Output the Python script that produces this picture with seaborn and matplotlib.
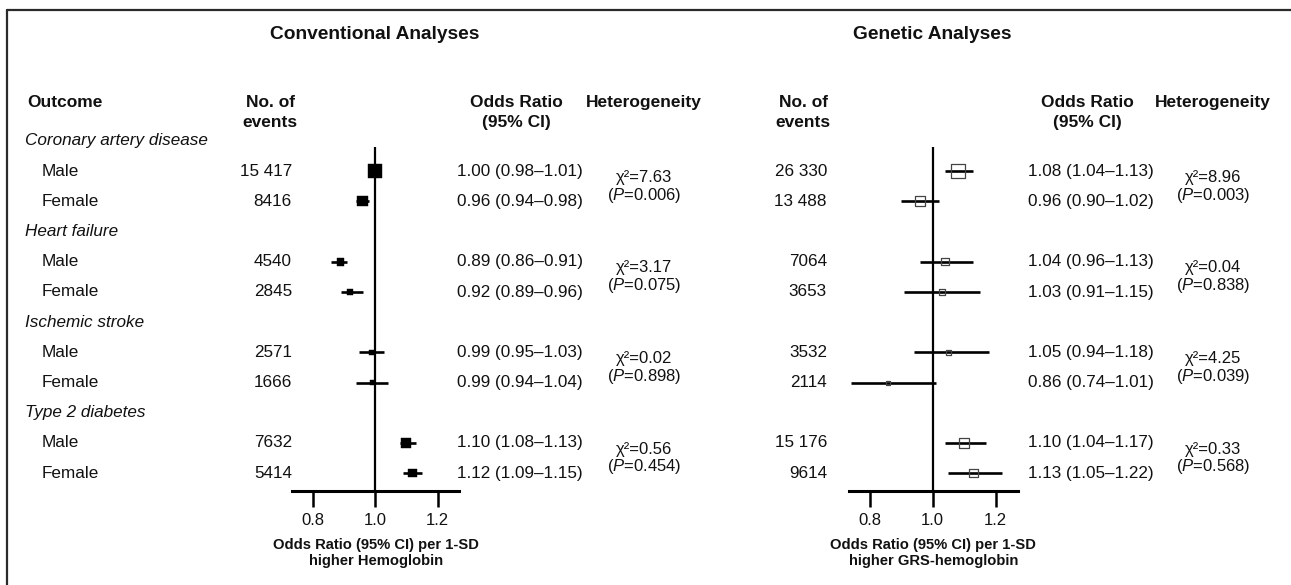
import numpy as np
import pandas as pd
import matplotlib
matplotlib.use("Agg")
import matplotlib.pyplot as plt
import matplotlib.transforms as mtransforms
from matplotlib.lines import Line2D
import seaborn as sns

# ---------------- data ----------------
categories = ["Coronary artery disease", "Heart failure", "Ischemic stroke", "Type 2 diabetes"]
sexes = ["Male", "Female"]

conv_events = [15417, 8416, 4540, 2845, 2571, 1666, 7632, 5414]
conv_or = [1.00, 0.96, 0.89, 0.92, 0.99, 0.99, 1.10, 1.12]
conv_lo = [0.98, 0.94, 0.86, 0.89, 0.95, 0.94, 1.08, 1.09]
conv_hi = [1.01, 0.98, 0.91, 0.96, 1.03, 1.04, 1.13, 1.15]
conv_chi = ["7.63", "3.17", "0.02", "0.56"]
conv_p = ["0.006", "0.075", "0.898", "0.454"]

gen_events = [26330, 13488, 7064, 3653, 3532, 2114, 15176, 9614]
gen_or = [1.08, 0.96, 1.04, 1.03, 1.05, 0.86, 1.10, 1.13]
gen_lo = [1.04, 0.90, 0.96, 0.91, 0.94, 0.74, 1.04, 1.05]
gen_hi = [1.13, 1.02, 1.13, 1.15, 1.18, 1.01, 1.17, 1.22]
gen_chi = ["8.96", "0.04", "4.25", "0.33"]
gen_p = ["0.003", "0.838", "0.039", "0.568"]

x_ticks = [0.8, 1.0, 1.2]
x_tick_labels = ["0.8", "1.0", "1.2"]

# ---------------- style ----------------
sns.set_theme(style="white")
plt.rcParams["font.family"] = ["Liberation Sans", "DejaVu Sans"]
plt.rcParams["mathtext.fontset"] = "custom"
plt.rcParams["mathtext.rm"] = "Liberation Sans"
plt.rcParams["mathtext.it"] = "Liberation Sans:italic"
plt.rcParams["mathtext.bf"] = "Liberation Sans:bold"
TXT = "#111111"

W, H = 1291, 585
fig = plt.figure(figsize=(W / 100, H / 100), dpi=100)

ROW0, ROWH = 141.0, 30.2
YTOP, YBOT = -0.5, 11.6
XMIN, XMAX = 0.735, 1.27
FS = 12.3


def make_axes(x_one_px, scale):
    left_px = x_one_px - (1.0 - XMIN) * scale
    width_px = (XMAX - XMIN) * scale
    top_px = ROW0 + ROWH * YTOP
    bot_px = ROW0 + ROWH * YBOT
    ax = fig.add_axes([left_px / W, 1 - bot_px / H, width_px / W, (bot_px - top_px) / H])
    ax.set_xlim(XMIN, XMAX)
    ax.set_ylim(YBOT, YTOP)
    return ax


def fmt_events(n):
    return f"{n:,}".replace(",", " ") if n >= 10000 else str(n)


# row indices: category header at 3c, male 3c+1, female 3c+2
data_rows = []
for c in range(len(categories)):
    data_rows += [3 * c + 1, 3 * c + 2]


def panel(ax, title, x_one_px, ev_x, or_x, het_x, events, ors, los, his, chis, ps,
          filled, size_max_area, xlabel, draw_outcome):
    tr = mtransforms.blended_transform_factory(fig.transFigure, ax.transData)
    fx = lambda px: px / W

    df = pd.DataFrame({"or": ors, "lo": los, "hi": his, "row": data_rows, "events": events})

    # confidence intervals
    ax.hlines(df["row"], df["lo"], df["hi"], color="black", lw=1.9, zorder=2)
    # reference line
    ax.vlines(1.0, 0.2, YBOT, color="black", lw=1.6, zorder=1)

    # point estimates
    if filled:
        sns.scatterplot(data=df, x="or", y="row", size="events", sizes=(0, size_max_area),
                        size_norm=(0, max(events)), marker="s", color="black",
                        edgecolor="black", linewidth=0.3, legend=False, ax=ax, zorder=3)
    else:
        sns.scatterplot(data=df, x="or", y="row", size="events", sizes=(0, size_max_area),
                        size_norm=(0, max(events)), marker="s", color="#444444",
                        facecolor="none", edgecolor="#444444", linewidth=0.9,
                        legend=False, ax=ax, zorder=3)
        ax.collections[-1].set_facecolor("none")

    # axes styling
    for s in ["top", "right", "left"]:
        ax.spines[s].set_visible(False)
    ax.spines["bottom"].set_linewidth(2.2)
    ax.spines["bottom"].set_color("black")
    ax.set_yticks([])
    ax.set_xticks(x_ticks)
    ax.set_xticklabels(x_tick_labels)
    ax.tick_params(axis="x", direction="out", length=11.5, width=1.8, color="black",
                   labelsize=12, pad=4, labelcolor=TXT, bottom=True)
    ax.set_xlabel(xlabel, fontsize=10.6, fontweight="bold", color=TXT, labelpad=7,
                  linespacing=1.25)
    ax.set_ylabel("")
    ax.grid(False)

    # title
    ax.text(1.0, -3.51, title, ha="center", va="center", fontsize=13.8,
            fontweight="bold", color=TXT, clip_on=False)

    # headers
    h1, h2 = -1.29, -0.60
    if draw_outcome:
        ax.text(fx(27), h1, "Outcome", transform=tr, ha="left", va="center",
                fontsize=12.5, fontweight="bold", color=TXT)
    ax.text(fx(ev_x[1]), h1, "No. of", transform=tr, ha="center", va="center",
            fontsize=12.5, fontweight="bold", color=TXT)
    ax.text(fx(ev_x[1]), h2, "events", transform=tr, ha="center", va="center",
            fontsize=12.5, fontweight="bold", color=TXT)
    ax.text(fx(or_x[1]), h1, "Odds Ratio", transform=tr, ha="center", va="center",
            fontsize=12.5, fontweight="bold", color=TXT)
    ax.text(fx(or_x[1]), h2, "(95% CI)", transform=tr, ha="center", va="center",
            fontsize=12.5, fontweight="bold", color=TXT)
    ax.text(fx(het_x), h1, "Heterogeneity", transform=tr, ha="center", va="center",
            fontsize=12.5, fontweight="bold", color=TXT)

    # category rows
    for c, cat in enumerate(categories):
        if draw_outcome:
            ax.text(fx(25), 3 * c, cat, transform=tr, ha="left", va="center",
                    fontsize=FS, style="italic", color=TXT)
        m = 3 * c + 1
        ax.text(fx(het_x), m + 0.2, "\u03c7\u00b2=" + chis[c], transform=tr, ha="center",
                va="center", fontsize=FS - 0.3, color=TXT)
        ax.text(fx(het_x), m + 0.79, "($\\mathit{P}$=" + ps[c] + ")", transform=tr,
                ha="center", va="center", fontsize=FS - 0.3, color=TXT)

    for i, r in enumerate(data_rows):
        if draw_outcome:
            ax.text(fx(42), r, sexes[i % 2], transform=tr, ha="left", va="center",
                    fontsize=FS, color=TXT)
        ax.text(fx(ev_x[0]), r, fmt_events(events[i]), transform=tr, ha="right",
                va="center", fontsize=FS, color=TXT)
        label = f"{ors[i]:.2f} ({los[i]:.2f}\u2013{his[i]:.2f})"
        ax.text(fx(or_x[0]), r, label, transform=tr, ha="left", va="center",
                fontsize=FS, color=TXT)


ax1 = make_axes(375.0, 312.5)
panel(ax1, "Conventional Analyses", 375.0, (292, 270), (457, 516), 644,
      conv_events, conv_or, conv_lo, conv_hi, conv_chi, conv_p,
      True, 97, "Odds Ratio (95% CI) per 1-SD\nhigher Hemoglobin", True)

ax2 = make_axes(932.5, 315.0)
panel(ax2, "Genetic Analyses", 932.5, (827, 803), (1028, 1087), 1213,
      gen_events, gen_or, gen_lo, gen_hi, gen_chi, gen_p,
      False, 102, "Odds Ratio (95% CI) per 1-SD\nhigher GRS-hemoglobin", False)

# frame (left and top edges)
fig.add_artist(Line2D([6.5 / W, 6.5 / W], [0, 1 - 10 / H], transform=fig.transFigure,
                      color="#2a2a2a", lw=1.6))
fig.add_artist(Line2D([6.5 / W, 1], [1 - 10 / H, 1 - 10 / H], transform=fig.transFigure,
                      color="#2a2a2a", lw=1.6))

fig.savefig("out.png", dpi=100, facecolor="white")
